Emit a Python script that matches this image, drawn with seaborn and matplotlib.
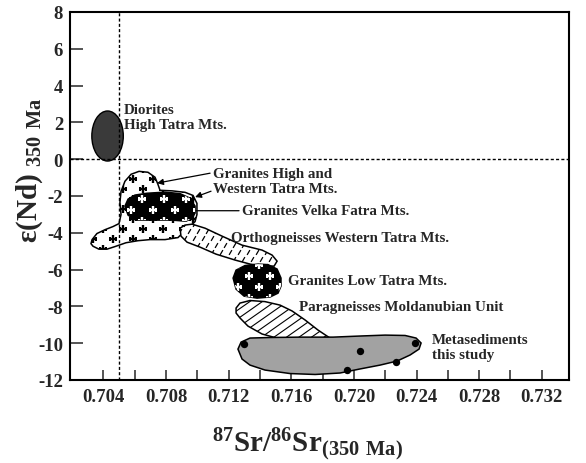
import numpy as np
import matplotlib
matplotlib.use("Agg")
import matplotlib.pyplot as plt
import seaborn as sns
import pandas as pd
from matplotlib.patches import Polygon, Ellipse
from matplotlib.markers import MarkerStyle
from matplotlib.transforms import Affine2D
from matplotlib.collections import LineCollection

sns.set_theme(style="ticks")
plt.rcParams["font.family"] = ["Liberation Serif", "DejaVu Serif"]
plt.rcParams["font.weight"] = "bold"
plt.rcParams["axes.unicode_minus"] = False
plt.rcParams["mathtext.fontset"] = "custom"
plt.rcParams["mathtext.rm"] = "Liberation Serif:bold"
plt.rcParams["mathtext.bf"] = "Liberation Serif:bold"
plt.rcParams["mathtext.default"] = "bf"

# ---- axes ticks -------------------------------------------------------------
x_ticks = [0.704, 0.708, 0.712, 0.716, 0.720, 0.724, 0.728, 0.732]
x_tick_labels = ["0.704", "0.708", "0.712", "0.716", "0.720", "0.724", "0.728", "0.732"]
x_minor = [0.706, 0.710, 0.714, 0.718, 0.722, 0.726, 0.730]
y_ticks = [-12, -10, -8, -6, -4, -2, 0, 2, 4, 6, 8]
y_tick_labels = ["-12", "-10", "-8", "-6", "-4", "-2", "0", "2", "4", "6", "8"]
x_limits = (0.70186, 0.73374)
y_limits = (-12, 8)
bulk_earth_sr = 0.705   # reference line for initial Sr
chur_eps = 0.0          # reference line for eNd

# ---- fields (outlines in 87Sr/86Sr vs eNd) ----------------------------------
diorite_center = (0.70426, 1.26)
diorite_size = (0.00201, 2.72)

gr_hw_x = [0.70327, 0.70358, 0.70410, 0.70461, 0.70499, 0.70512, 0.70505, 0.70512,
           0.70537, 0.70576, 0.70627, 0.70684, 0.70729, 0.70748, 0.70761, 0.70838,
           0.70921, 0.70972, 0.70997, 0.70997, 0.70985, 0.70953, 0.70908, 0.70876,
           0.70793, 0.70697, 0.70620, 0.70544, 0.70473, 0.70422, 0.70371, 0.70333,
           0.70320]
gr_hw_y = [-4.37, -4.04, -3.83, -3.66, -3.50, -3.01, -2.35, -1.75,
           -1.20, -0.82, -0.66, -0.71, -0.98, -1.37, -1.69, -1.72,
           -1.80, -1.97, -2.40, -3.01, -3.39, -3.66, -3.99, -4.26,
           -4.37, -4.37, -4.43, -4.54, -4.75, -4.89, -4.89, -4.73,
           -4.59]

velka_x = [0.70537, 0.70557, 0.70601, 0.70678, 0.70793, 0.70889, 0.70953, 0.70985,
           0.70985, 0.70966, 0.70927, 0.70838, 0.70710, 0.70608, 0.70557]
velka_y = [-2.55, -2.17, -1.95, -1.85, -1.79, -1.87, -2.12, -2.55,
           -2.93, -3.20, -3.37, -3.31, -3.31, -3.31, -3.04]

ortho_x = [0.70889, 0.70921, 0.70966, 0.71049, 0.71157, 0.71285, 0.71413, 0.71477,
           0.71509, 0.71490, 0.71413, 0.71336, 0.71240, 0.71119, 0.71017, 0.70934,
           0.70895]
ortho_y = [-3.75, -3.58, -3.53, -3.75, -4.18, -4.67, -4.94, -5.21,
           -5.54, -5.81, -5.81, -5.70, -5.48, -5.16, -4.78, -4.51,
           -4.18]

low_x = [0.71228, 0.71247, 0.71304, 0.71387, 0.71451, 0.71509, 0.71534, 0.71534,
         0.71515, 0.71464, 0.71381, 0.71298, 0.71247]
low_y = [-6.46, -6.03, -5.78, -5.70, -5.73, -5.97, -6.46, -6.90,
         -7.28, -7.49, -7.55, -7.44, -7.06]

para_x = [0.71247, 0.71272, 0.71336, 0.71432, 0.71528, 0.71605, 0.71688, 0.71771,
          0.71847, 0.71720, 0.71528, 0.71413, 0.71323, 0.71272, 0.71247]
para_y = [-8.09, -7.82, -7.68, -7.74, -7.93, -8.25, -8.74, -9.29,
          -9.72, -9.83, -9.77, -9.50, -9.07, -8.63, -8.36]

meta_x = [0.71259, 0.71279, 0.71336, 0.71464, 0.71656, 0.71867, 0.72039, 0.72199,
          0.72327, 0.72397, 0.72429, 0.72416, 0.72359, 0.72276, 0.72167, 0.72039,
          0.71911, 0.71752, 0.71592, 0.71432, 0.71336, 0.71285]
meta_y = [-10.32, -9.94, -9.72, -9.69, -9.67, -9.67, -9.61, -9.56,
          -9.58, -9.72, -9.99, -10.32, -10.64, -10.97, -11.19, -11.40,
          -11.62, -11.70, -11.65, -11.46, -11.19, -10.86]

# metasediment samples
sample_sr = [0.71295, 0.72039, 0.72390, 0.72266, 0.71956]
sample_eps = [-10.07, -10.40, -9.99, -11.02, -11.46]

# ---- figure -----------------------------------------------------------------
W, H = 586, 464
fig = plt.figure(figsize=(W / 100, H / 100), dpi=100)
ax = fig.add_axes([70 / W, 1 - 381 / H, 499 / W, 368 / H])
ax.set_xlim(*x_limits)
ax.set_ylim(*y_limits)

# size of one pixel in data units (for texture spacing)
dx_px = (x_limits[1] - x_limits[0]) / 499.0
dy_px = (y_limits[1] - y_limits[0]) / 368.0


def add_field(xs, ys, face, z):
    p = Polygon(np.column_stack([xs, ys]), closed=True, facecolor=face,
                edgecolor="black", linewidth=1.1, zorder=z)
    ax.add_patch(p)
    return p


def staggered(xs, ys, sx, sy, phase=0.0):
    pts = []
    yy = np.arange(min(ys) - sy * dy_px, max(ys) + sy * dy_px, sy * dy_px)
    for i, y in enumerate(yy):
        off = 0.5 * sx * dx_px * (i % 2) + phase * dx_px
        for x in np.arange(min(xs) - sx * dx_px + off, max(xs) + sx * dx_px, sx * dx_px):
            pts.append((x, y))
    return np.array(pts)


def plus_texture(patch, xs, ys, color, sx, sy, z, phase=0.0):
    pts = staggered(xs, ys, sx, sy, phase)
    coll = ax.scatter(pts[:, 0], pts[:, 1], marker="+", s=36, linewidths=1.7,
                      color=color, zorder=z)
    coll.set_clip_path(patch)


# Diorites
dio = Ellipse(diorite_center, diorite_size[0], diorite_size[1], facecolor="#3a3a3a",
              edgecolor="black", linewidth=1.0, zorder=2)
ax.add_patch(dio)

# Granites High and Western Tatra
p_hw = add_field(gr_hw_x, gr_hw_y, "white", 2)
plus_texture(p_hw, gr_hw_x, gr_hw_y, "black", 20, 10, 2.1, phase=2)

# Granites Velka Fatra
p_vf = add_field(velka_x, velka_y, "black", 3)
plus_texture(p_vf, velka_x, velka_y, "white", 22, 11, 3.1, phase=6)

# Orthogneisses Western Tatra
p_or = add_field(ortho_x, ortho_y, "white", 3)
dash = MarkerStyle("|", transform=Affine2D().rotate_deg(-30))
pts = staggered(ortho_x, ortho_y, 9, 7)
c = ax.scatter(pts[:, 0], pts[:, 1], marker=dash, s=16, linewidths=0.9,
               color="black", zorder=3.1)
c.set_clip_path(p_or)

# Granites Low Tatra
p_lt = add_field(low_x, low_y, "black", 4)
plus_texture(p_lt, low_x, low_y, "white", 21, 11, 4.1, phase=5)

# Paragneisses Moldanubian Unit (diagonal ruling)
p_pa = add_field(para_x, para_y, "white", 3)
slope = 0.7 * dy_px / dx_px
segs = []
for x0 in np.arange(min(para_x) - 80 * dx_px, max(para_x) + 20 * dx_px, 12.5 * dx_px):
    xa, xb = x0, x0 + 120 * dx_px
    segs.append([(xa, min(para_y) - 1), (xb, min(para_y) - 1 + slope * (xb - xa))])
lc = LineCollection(segs, colors="black", linewidths=0.8, zorder=3.1)
ax.add_collection(lc)
lc.set_clip_path(p_pa)

# Metasediments (this study)
add_field(meta_x, meta_y, "#a2a2a2", 5)
samples = pd.DataFrame({"sr": sample_sr, "eps": sample_eps})
sns.scatterplot(data=samples, x="sr", y="eps", ax=ax, color="black", s=28,
                edgecolor="black", linewidth=0, zorder=6, legend=False)

# reference lines
ax.axvline(bulk_earth_sr, color="black", lw=1.0, ls=(0, (2.2, 1.6)), zorder=7)
ax.axhline(chur_eps, color="black", lw=1.0, ls=(0, (2.2, 1.6)), zorder=7)

# labels
lab = dict(fontsize=10.8, fontweight="bold", ha="left", va="center", zorder=8)
ax.text(0.70531, 2.28, "Diorites\nHigh Tatra Mts.", linespacing=1.25, **lab)
ax.text(0.71097, -1.19, "Granites High and\nWestern Tatra Mts.", linespacing=1.15, **lab)
ax.text(0.71285, -2.77, "Granites Velka Fatra Mts.", **lab)
ax.text(0.71215, -4.24, "Orthogneisses Western Tatra Mts.", **lab)
ax.text(0.71579, -6.60, "Granites Low Tatra Mts.", **lab)
ax.text(0.71649, -7.98, "Paragneisses Moldanubian Unit", **lab)
ax.text(0.72499, -10.21, "Metasediments\nthis study", linespacing=1.15, **lab)

arrow = dict(arrowstyle="-|>", lw=0.9, color="black", mutation_scale=9,
             shrinkA=0, shrinkB=0)
ax.annotate("", xy=(0.70742, -1.30), xytext=(0.71081, -0.76), arrowprops=arrow, zorder=8)
ax.annotate("", xy=(0.70985, -2.06), xytext=(0.71087, -1.74), arrowprops=arrow, zorder=8)
ax.annotate("", xy=(0.70991, -2.80), xytext=(0.71266, -2.80),
            arrowprops=dict(arrowstyle="-", lw=0.9, color="black", shrinkA=0, shrinkB=0),
            zorder=8)

# ticks & spines
ax.set_xticks(x_ticks)
ax.set_xticklabels(x_tick_labels)
ax.set_xticks(x_minor, minor=True)
ax.set_yticks(y_ticks)
ax.set_yticklabels(y_tick_labels)
ax.tick_params(axis="x", which="both", direction="in", length=7.5, width=1.1,
               labelsize=13.5, pad=6, top=False)
ax.tick_params(axis="y", direction="in", length=9, width=1.1, labelsize=13.5,
               pad=5, right=False)
for lbl in ax.get_xticklabels() + ax.get_yticklabels():
    lbl.set_fontweight("bold")
for s in ax.spines.values():
    s.set_visible(True)
    s.set_linewidth(1.5)
    s.set_color("black")
ax.set_xlabel("")
ax.set_ylabel("")

fig.text(308 / W, 1 - 452 / H, r"$^{87}$Sr/$^{86}$Sr$_{(350\ Ma)}$", fontsize=21,
         fontweight="bold", ha="center", va="baseline")
fig.text(30 / W, 1 - 170 / H, r"ε(Nd)$_{\ 350\ Ma}$", fontsize=21, fontweight="bold",
         rotation=90, ha="center", va="center")

fig.savefig("out.png", dpi=100, facecolor="white")
